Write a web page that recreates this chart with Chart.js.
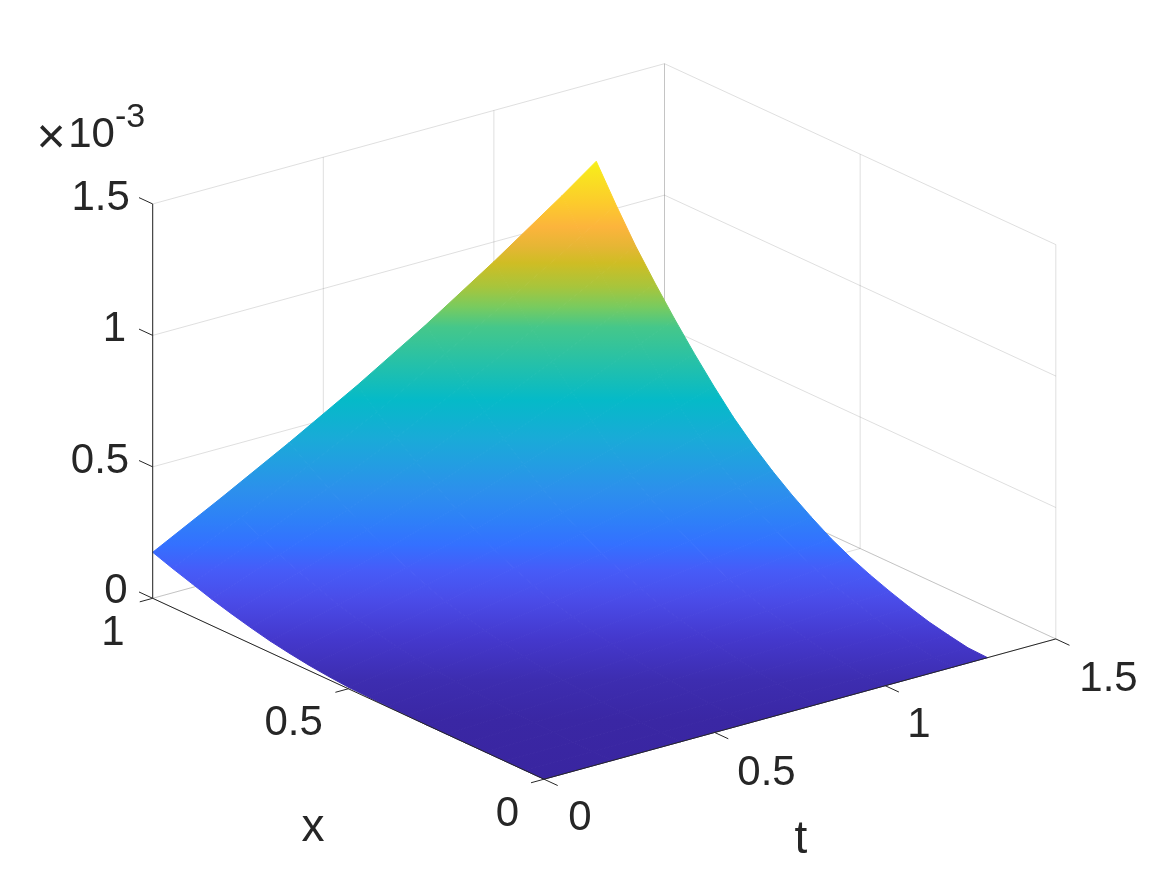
<!DOCTYPE html>
<html>
<head>
<meta charset="utf-8">
<style>
html, body { margin: 0; padding: 0; background: #fff; }
canvas { display: block; }
</style>
<script src="https://cdn.jsdelivr.net/npm/chart.js@4"></script>
</head>
<body>
<canvas id="chart" width="1167" height="875"></canvas>
<script>
const xValues = [0, 0.05, 0.1, 0.15, 0.2, 0.25, 0.3, 0.35, 0.4, 0.45, 0.5, 0.55, 0.6, 0.65, 0.7, 0.75, 0.8, 0.85, 0.9, 0.95, 1];
const tValues = [0, 0.2, 0.4, 0.6, 0.8, 1.0, 1.2, 1.3];

// surface height in units of 1e-3, one row per xValues entry
const zRow00 = [0, 0, 0, 0, 0, 0, 0, 0];
const zRow01 = [0, 0, 0.001, 0.001, 0.002, 0.002, 0.003, 0.003];
const zRow02 = [0, 0.002, 0.005, 0.007, 0.01, 0.013, 0.016, 0.017];
const zRow03 = [0, 0.004, 0.009, 0.014, 0.019, 0.024, 0.03, 0.033];
const zRow04 = [0, 0.007, 0.015, 0.023, 0.032, 0.041, 0.05, 0.055];
const zRow05 = [0, 0.011, 0.021, 0.033, 0.046, 0.059, 0.073, 0.08];
const zRow06 = [0, 0.014, 0.029, 0.045, 0.062, 0.08, 0.098, 0.108];
const zRow07 = [0.001, 0.019, 0.038, 0.059, 0.081, 0.104, 0.128, 0.14];
const zRow08 = [0.002, 0.025, 0.049, 0.075, 0.103, 0.132, 0.163, 0.178];
const zRow09 = [0.004, 0.033, 0.063, 0.095, 0.131, 0.167, 0.205, 0.224];
const zRow10 = [0.006, 0.042, 0.078, 0.118, 0.161, 0.205, 0.251, 0.275];
const zRow11 = [0.012, 0.054, 0.098, 0.145, 0.196, 0.249, 0.304, 0.332];
const zRow12 = [0.02, 0.07, 0.121, 0.176, 0.237, 0.299, 0.363, 0.396];
const zRow13 = [0.031, 0.089, 0.148, 0.212, 0.283, 0.355, 0.43, 0.468];
const zRow14 = [0.044, 0.111, 0.18, 0.255, 0.337, 0.42, 0.507, 0.552];
const zRow15 = [0.061, 0.138, 0.217, 0.302, 0.396, 0.492, 0.591, 0.642];
const zRow16 = [0.08, 0.167, 0.256, 0.353, 0.459, 0.568, 0.68, 0.738];
const zRow17 = [0.101, 0.199, 0.299, 0.408, 0.527, 0.649, 0.775, 0.84];
const zRow18 = [0.125, 0.234, 0.346, 0.467, 0.599, 0.735, 0.876, 0.948];
const zRow19 = [0.149, 0.271, 0.396, 0.531, 0.68, 0.831, 0.989, 1.07];
const zRow20 = [0.175, 0.31, 0.45, 0.597, 0.755, 0.925, 1.105, 1.2];
const zRows = [zRow00, zRow01, zRow02, zRow03, zRow04, zRow05, zRow06, zRow07, zRow08, zRow09, zRow10,
    zRow11, zRow12, zRow13, zRow14, zRow15, zRow16, zRow17, zRow18, zRow19, zRow20];

const xTicks = [0, 0.5, 1];
const tTicks = [0, 0.5, 1, 1.5];
const zTicks = [0, 0.5, 1, 1.5];
const xTickLabels = ["0", "0.5", "1"];
const tTickLabels = ["0", "0.5", "1", "1.5"];
const zTickLabels = ["0", "0.5", "1", "1.5"];

// colour bands of the surface, top of the picture to the bottom
const bandColors = ["#f7ef1a", "#fccb2c", "#fcb43c", "#e5b634", "#cfbd24", "#a7c53c", "#78cb5f", "#45c78a",
    "#05bac8", "#1aaad8", "#2c90ec", "#2e80f8", "#3470ff", "#465cf8", "#4a4ce8", "#4438cc", "#3d2db0", "#3a27a4", "#3925a0"];
const bandRows = [162, 203, 227, 247, 263, 287, 307, 327, 400, 440, 490, 520, 545, 570, 600, 640, 680, 720, 780];

// where the 3d box lands on the page (orthographic view)
const view = {
    ox: 544, oy: 779.2,
    xx: -391.3, xy: -180.9,   // x from 0 to 1
    tx: 341.2, ty: -93.5,     // per unit of t
    zy: -262.9,               // per 1e-3
};
const xMax = 1, tMax = 1.5, zMax = 1.5;
const tickLenX = 0.035;   // in x units
const tickLenT = 0.038;   // in t units

const ink = "#262626";
const gridColor = "rgba(38,38,38,0.15)";
const tickFont = '42px "Liberation Sans", Arial, sans-serif';
const titleFont = '46px "Liberation Sans", Arial, sans-serif';
const powerFont = '34px "Liberation Sans", Arial, sans-serif';
const timesFont = '50px "Liberation Sans", Arial, sans-serif';

function project(x, t, z) {
    return {
        x: view.ox + view.xx * x + view.tx * t,
        y: view.oy + view.xy * x + view.ty * t + view.zy * z,
    };
}

function lineSet(points, color, order) {
    return {
        data: points,
        showLine: true,
        borderColor: color,
        borderWidth: 1,
        pointRadius: 0,
        fill: false,
        clip: false,
        order: order,
    };
}

let bandGradient = null;
function surfaceGradient(ctx) {
    const chart = ctx.chart;
    if (!chart.chartArea) {
        return bandColors[0]; // scales are not laid out yet
    }
    if (!bandGradient) {
        const y = chart.scales.y;
        const top = y.getPixelForValue(bandRows[0]);
        const bottom = y.getPixelForValue(bandRows[bandRows.length - 1]);
        bandGradient = chart.ctx.createLinearGradient(0, top, 0, bottom);
        bandRows.forEach((row, i) => {
            bandGradient.addColorStop((row - bandRows[0]) / (bandRows[bandRows.length - 1] - bandRows[0]), bandColors[i]);
        });
    }
    return bandGradient;
}

const gridSets = [];
// back walls
tTicks.forEach((t) => {
    gridSets.push(lineSet([project(xMax, t, 0), project(xMax, t, zMax)], gridColor, 3));
});
xTicks.forEach((x) => {
    gridSets.push(lineSet([project(x, tMax, 0), project(x, tMax, zMax)], gridColor, 3));
});
zTicks.forEach((z) => {
    gridSets.push(lineSet([project(xMax, 0, z), project(xMax, tMax, z)], gridColor, 3));
    gridSets.push(lineSet([project(xMax, tMax, z), project(0, tMax, z)], gridColor, 3));
});
// floor
tTicks.forEach((t) => {
    gridSets.push(lineSet([project(0, t, 0), project(xMax, t, 0)], gridColor, 3));
});
xTicks.forEach((x) => {
    gridSets.push(lineSet([project(x, 0, 0), project(x, tMax, 0)], gridColor, 3));
});

const surfaceSets = [];
for (let i = 0; i < xValues.length - 1; i++) {
    for (let j = 0; j < tValues.length - 1; j++) {
        surfaceSets.push({
            data: [
                project(xValues[i], tValues[j], zRows[i][j]),
                project(xValues[i + 1], tValues[j], zRows[i + 1][j]),
                project(xValues[i + 1], tValues[j + 1], zRows[i + 1][j + 1]),
                project(xValues[i], tValues[j + 1], zRows[i][j + 1]),
                project(xValues[i], tValues[j], zRows[i][j]),
            ],
            showLine: true,
            fill: "shape",
            backgroundColor: surfaceGradient,
            borderColor: surfaceGradient,
            borderWidth: 1,
            pointRadius: 0,
            clip: false,
            order: 2,
        });
    }
}

const axisSets = [
    lineSet([project(0, 0, 0), project(xMax, 0, 0)], ink, 1),
    lineSet([project(0, 0, 0), project(0, tMax, 0)], ink, 1),
    lineSet([project(xMax, 0, 0), project(xMax, 0, zMax)], ink, 1),
];
zTicks.forEach((z) => {
    axisSets.push(lineSet([project(xMax, 0, z), project(xMax + tickLenX, 0, z)], ink, 1));
});
xTicks.forEach((x) => {
    axisSets.push(lineSet([project(x, 0, 0), project(x, -tickLenT, 0)], ink, 1));
});
tTicks.forEach((t) => {
    axisSets.push(lineSet([project(0, t, 0), project(-tickLenX, t, 0)], ink, 1));
});

// label centre x and baseline y on the page
const zLabelSpots = [[116, 603], [100, 472.5], [114.5, 341], [100.7, 210]];
const xLabelSpots = [[507.5, 826], [293.7, 735], [113, 645]];
const tLabelSpots = [[580, 830], [766.5, 784.5], [919, 737], [1108.5, 691]];

const textPlugin = {
    id: "boxText",
    afterDraw(chart) {
        const { ctx, scales } = chart;
        const put = (text, px, py, font) => {
            ctx.font = font;
            ctx.textAlign = "center";
            ctx.textBaseline = "alphabetic";
            ctx.fillStyle = ink;
            ctx.fillText(text, scales.x.getPixelForValue(px), scales.y.getPixelForValue(py));
        };
        ctx.save();
        zTickLabels.forEach((s, i) => put(s, zLabelSpots[i][0], zLabelSpots[i][1], tickFont));
        xTickLabels.forEach((s, i) => put(s, xLabelSpots[i][0], xLabelSpots[i][1], tickFont));
        tTickLabels.forEach((s, i) => put(s, tLabelSpots[i][0], tLabelSpots[i][1], tickFont));
        put("x", 313, 841, titleFont);
        put("t", 801, 853, titleFont);
        put("×", 51, 153, timesFont);
        put("10", 91.5, 147, tickFont);
        put("-3", 130, 127, powerFont);
        ctx.restore();
    },
};

new Chart(document.getElementById("chart"), {
    type: "scatter",
    data: { datasets: [...axisSets, ...surfaceSets, ...gridSets] },
    options: {
        responsive: false,
        animation: false,
        layout: { padding: 0 },
        plugins: { legend: { display: false }, tooltip: { enabled: false } },
        scales: {
            x: { type: "linear", min: 0, max: 1167, display: false },
            y: { type: "linear", min: 0, max: 875, reverse: true, display: false },
        },
    },
    plugins: [textPlugin],
});
</script>
</body>
</html>
